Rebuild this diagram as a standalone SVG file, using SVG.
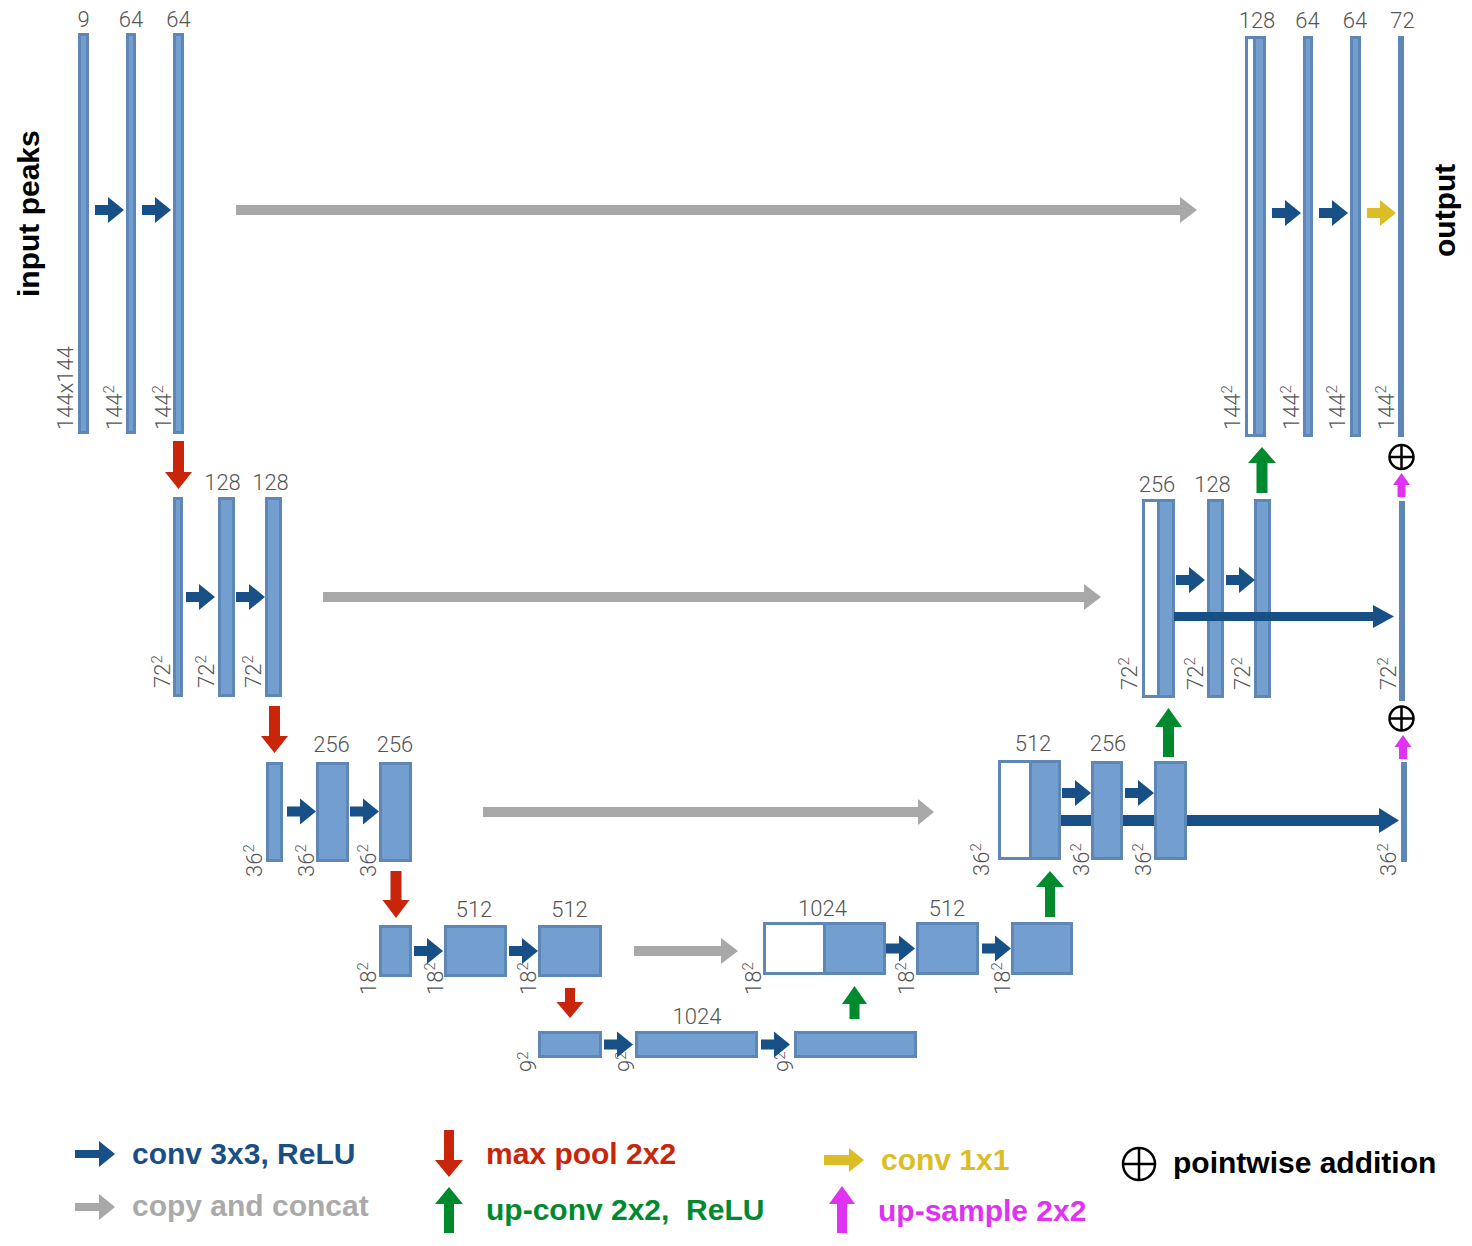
<svg xmlns="http://www.w3.org/2000/svg" width="1472" height="1246" viewBox="0 0 1472 1246">
<style>
.box{fill:#729fcf;stroke:#5f87b5;stroke-width:3}
.cat{fill:#ffffff;stroke:#5f87b5;stroke-width:3}
.thin{fill:#5f87b5}
.num{font-family:Roboto,"Liberation Sans",Arial,sans-serif;font-weight:300;font-size:22px;fill:#555555}
.sup{font-size:15px}
.top{text-anchor:middle}
.conv{fill:#174f87}
.copy{fill:#a8a8a8}
.pool{fill:#c8250a}
.up{fill:#008a2e}
.one{fill:#dbbd25}
.ups{fill:#e032f2}
.plus{fill:none;stroke:#000000;stroke-width:2.5}
.big{font-family:"Liberation Sans",Arial,sans-serif;font-weight:bold;font-size:30px}
</style>
<defs>
<path id="ca" d="M0,-5H13V-13L29,0L13,13V5H0Z"/>
</defs>
<rect width="1472" height="1246" fill="#ffffff"/>

<g id="connectors-back">
<path class="conv" d="M1061,815H1379V808L1399,820.5L1379,833V826H1061Z"/>
</g>

<g id="level1-down">
<g id="n1a"><rect class="box" x="79.5" y="34.5" width="8" height="398"/><text class="num top" x="83.5" y="27">9</text><text class="num" transform="translate(73,430) rotate(-90)">144x144</text></g>
<g id="n1b"><rect class="box" x="127.5" y="34.5" width="7" height="398"/><text class="num top" x="131" y="27">64</text><text class="num" transform="translate(122,430) rotate(-90)">144<tspan class="sup" dy="-8">2</tspan></text></g>
<g id="n1c"><rect class="box" x="174.5" y="34.5" width="8" height="398"/><text class="num top" x="178.5" y="27">64</text><text class="num" transform="translate(171,430) rotate(-90)">144<tspan class="sup" dy="-8">2</tspan></text></g>
</g>

<g id="level1-up">
<g id="u1a"><rect class="cat" x="1246.5" y="37.5" width="18" height="398"/><rect class="box" x="1254.5" y="37.5" width="10" height="398"/><text class="num top" x="1257" y="28">128</text><text class="num" transform="translate(1240,430) rotate(-90)">144<tspan class="sup" dy="-8">2</tspan></text></g>
<g id="u1b"><rect class="box" x="1304.5" y="37.5" width="7" height="398"/><text class="num top" x="1307.5" y="28">64</text><text class="num" transform="translate(1299,430) rotate(-90)">144<tspan class="sup" dy="-8">2</tspan></text></g>
<g id="u1c"><rect class="box" x="1351.5" y="37.5" width="8" height="398"/><text class="num top" x="1355" y="28">64</text><text class="num" transform="translate(1345,430) rotate(-90)">144<tspan class="sup" dy="-8">2</tspan></text></g>
<g id="u1out"><rect class="thin" x="1398" y="36" width="6" height="401"/><text class="num top" x="1402.5" y="28">72</text><text class="num" transform="translate(1394,430) rotate(-90)">144<tspan class="sup" dy="-8">2</tspan></text></g>
</g>

<g id="level2-down">
<g id="n2a"><rect class="box" x="174.5" y="498.5" width="7" height="197"/><text class="num" transform="translate(170,688) rotate(-90)">72<tspan class="sup" dy="-8">2</tspan></text></g>
<g id="n2b"><rect class="box" x="219.5" y="498.5" width="14" height="197"/><text class="num top" x="222.5" y="490">128</text><text class="num" transform="translate(214,688) rotate(-90)">72<tspan class="sup" dy="-8">2</tspan></text></g>
<g id="n2c"><rect class="box" x="266.5" y="498.5" width="14" height="197"/><text class="num top" x="270.5" y="490">128</text><text class="num" transform="translate(261,688) rotate(-90)">72<tspan class="sup" dy="-8">2</tspan></text></g>
</g>

<g id="level2-up">
<g id="u2a"><rect class="cat" x="1143.5" y="500.5" width="30" height="196"/><rect class="box" x="1158.5" y="500.5" width="15" height="196"/><text class="num top" x="1157" y="492">256</text><text class="num" transform="translate(1137,690) rotate(-90)">72<tspan class="sup" dy="-8">2</tspan></text></g>
<g id="u2b"><rect class="box" x="1208.5" y="500.5" width="14" height="196"/><text class="num top" x="1212.5" y="492">128</text><text class="num" transform="translate(1203,690) rotate(-90)">72<tspan class="sup" dy="-8">2</tspan></text></g>
<g id="u2c"><rect class="box" x="1255.5" y="500.5" width="14" height="196"/><text class="num" transform="translate(1250,690) rotate(-90)">72<tspan class="sup" dy="-8">2</tspan></text></g>
<g id="u2out"><rect class="thin" x="1399" y="501" width="6" height="200"/><text class="num" transform="translate(1396,690) rotate(-90)">72<tspan class="sup" dy="-8">2</tspan></text></g>
</g>

<g id="level3-down">
<g id="n3a"><rect class="box" x="267.5" y="763.5" width="14" height="97"/><text class="num" transform="translate(262,877) rotate(-90)">36<tspan class="sup" dy="-8">2</tspan></text></g>
<g id="n3b"><rect class="box" x="317.5" y="763.5" width="30" height="97"/><text class="num top" x="331.5" y="752">256</text><text class="num" transform="translate(314,877) rotate(-90)">36<tspan class="sup" dy="-8">2</tspan></text></g>
<g id="n3c"><rect class="box" x="380.5" y="763.5" width="30" height="97"/><text class="num top" x="395" y="752">256</text><text class="num" transform="translate(376,877) rotate(-90)">36<tspan class="sup" dy="-8">2</tspan></text></g>
</g>

<g id="level3-up">
<g id="u3a"><rect class="cat" x="999.5" y="761.5" width="60" height="97"/><rect class="box" x="1030.5" y="761.5" width="29" height="97"/><text class="num top" x="1033" y="751">512</text><text class="num" transform="translate(989,876) rotate(-90)">36<tspan class="sup" dy="-8">2</tspan></text></g>
<g id="u3b"><rect class="box" x="1092.5" y="762.5" width="29" height="96"/><text class="num top" x="1108" y="751">256</text><text class="num" transform="translate(1089,876) rotate(-90)">36<tspan class="sup" dy="-8">2</tspan></text></g>
<g id="u3c"><rect class="box" x="1155.5" y="762.5" width="30" height="96"/><text class="num" transform="translate(1151,876) rotate(-90)">36<tspan class="sup" dy="-8">2</tspan></text></g>
<g id="u3out"><rect class="thin" x="1401" y="762" width="6" height="100"/><text class="num" transform="translate(1396,876) rotate(-90)">36<tspan class="sup" dy="-8">2</tspan></text></g>
</g>

<g id="level4-down">
<g id="n4a"><rect class="box" x="380.5" y="926.5" width="30" height="49"/><text class="num" transform="translate(376,995) rotate(-90)">18<tspan class="sup" dy="-8">2</tspan></text></g>
<g id="n4b"><rect class="box" x="445.5" y="926.5" width="60" height="49"/><text class="num top" x="474" y="917">512</text><text class="num" transform="translate(443,995) rotate(-90)">18<tspan class="sup" dy="-8">2</tspan></text></g>
<g id="n4c"><rect class="box" x="539.5" y="926.5" width="61" height="49"/><text class="num top" x="569.5" y="917">512</text><text class="num" transform="translate(536,995) rotate(-90)">18<tspan class="sup" dy="-8">2</tspan></text></g>
</g>

<g id="level4-up">
<g id="u4a"><rect class="cat" x="764.5" y="923.5" width="120" height="50"/><rect class="box" x="824.5" y="923.5" width="60" height="50"/><text class="num top" x="822.5" y="916">1024</text><text class="num" transform="translate(761,995) rotate(-90)">18<tspan class="sup" dy="-8">2</tspan></text></g>
<g id="u4b"><rect class="box" x="917.5" y="923.5" width="60" height="50"/><text class="num top" x="947" y="916">512</text><text class="num" transform="translate(914,995) rotate(-90)">18<tspan class="sup" dy="-8">2</tspan></text></g>
<g id="u4c"><rect class="box" x="1012.5" y="923.5" width="59" height="50"/><text class="num" transform="translate(1010,995) rotate(-90)">18<tspan class="sup" dy="-8">2</tspan></text></g>
</g>

<g id="level5">
<g id="n5a"><rect class="box" x="539.5" y="1032.5" width="61" height="24"/><text class="num" transform="translate(536,1072) rotate(-90)">9<tspan class="sup" dy="-8">2</tspan></text></g>
<g id="n5b"><rect class="box" x="636.5" y="1032.5" width="120" height="24"/><text class="num top" x="697" y="1024">1024</text><text class="num" transform="translate(634,1072) rotate(-90)">9<tspan class="sup" dy="-8">2</tspan></text></g>
<g id="n5c"><rect class="box" x="795.5" y="1032.5" width="120" height="24"/><text class="num" transform="translate(793,1072) rotate(-90)">9<tspan class="sup" dy="-8">2</tspan></text></g>
</g>

<g id="add1"><circle class="plus" cx="1401.5" cy="457" r="12"/><path class="plus" d="M1389.5,457H1413.5M1401.5,445V469"/></g>
<g id="add2"><circle class="plus" cx="1401.5" cy="718.5" r="12"/><path class="plus" d="M1389.5,718.5H1413.5M1401.5,706.5V730.5"/></g>

<g id="labels">
<text class="big" transform="translate(39,297) rotate(-90)">input peaks</text>
<text class="big" transform="translate(1455,257) rotate(-90)">output</text>
</g>

<g id="connectors">
<use href="#ca" class="conv" x="95" y="210"/>
<use href="#ca" class="conv" x="142" y="210"/>
<use href="#ca" class="conv" x="1272" y="213"/>
<use href="#ca" class="conv" x="1319" y="213"/>
<use href="#ca" class="one" x="1367" y="213"/>
<use href="#ca" class="conv" x="186" y="597"/>
<use href="#ca" class="conv" x="236" y="597"/>
<use href="#ca" class="conv" x="1176" y="580"/>
<use href="#ca" class="conv" x="1226" y="580"/>
<use href="#ca" class="conv" x="287" y="811.5"/>
<use href="#ca" class="conv" x="350" y="811.5"/>
<use href="#ca" class="conv" x="1062" y="793"/>
<use href="#ca" class="conv" x="1125" y="793"/>
<use href="#ca" class="conv" x="414" y="951"/>
<use href="#ca" class="conv" x="509" y="951"/>
<use href="#ca" class="conv" x="886" y="948.5"/>
<use href="#ca" class="conv" x="982" y="948.5"/>
<use href="#ca" class="conv" x="604" y="1044.5"/>
<use href="#ca" class="conv" x="761" y="1044.5"/>
<path class="copy" d="M236,205H1180V197L1197,210L1180,223V215H236Z"/>
<path class="copy" d="M323,592H1084V584L1101,597L1084,610V602H323Z"/>
<path class="copy" d="M483,807H918V799L934,812L918,825V817H483Z"/>
<path class="copy" d="M634,946H721V938L738,951L721,964V956H634Z"/>
<path class="conv" d="M1174,612H1373V605L1394,616.5L1373,628V621H1174Z"/>
<path class="pool" d="M173,441H184V472H192L178.5,489L165,472H173Z"/>
<path class="pool" d="M269,706H280V736H288L274.5,753L261,736H269Z"/>
<path class="pool" d="M390.5,871H401.5V900H409.5L396,918L382.5,900H390.5Z"/>
<path class="pool" d="M565,988H575V1002H583.5L570,1018L556.5,1002H565Z"/>
<path class="up" d="M849.5,1019V1004H842L854.5,986L867,1004H859.5V1019Z"/>
<path class="up" d="M1045,917V887H1036L1050,871L1064,887H1055V917Z"/>
<path class="up" d="M1163,757V727H1155L1168.5,708L1182,727H1174V757Z"/>
<path class="up" d="M1256.5,493V463H1248L1262,447L1276,463H1267.5V493Z"/>
<path class="ups" d="M1397.5,497V485H1393L1401.5,473L1410,485H1405.5V497Z"/>
<path class="ups" d="M1399,759V747H1394.5L1403,735L1411.5,747H1407V759Z"/>
</g>

<g id="legend">
<path class="conv" d="M75,1150H99V1141L115,1154L99,1167V1158H75Z"/>
<text class="big" x="132" y="1164" fill="#1a4f86">conv 3x3, ReLU</text>
<path class="copy" d="M75,1203H99V1194L115,1207L99,1220V1211H75Z"/>
<text class="big" x="132" y="1216" fill="#aaaaaa">copy and concat</text>
<path class="pool" d="M444,1130H454V1160H463L449,1177L435,1160H444Z"/>
<text class="big" x="486" y="1164" fill="#c8250a">max pool 2x2</text>
<path class="up" d="M444,1233V1204H435L449,1187L463,1204H454V1233Z"/>
<text class="big" x="486" y="1220" fill="#00892e" xml:space="preserve">up-conv 2x2,  ReLU</text>
<path class="one" d="M824,1155H849V1148L864,1160L849,1172V1165H824Z"/>
<text class="big" x="881" y="1170" fill="#dcbd25">conv 1x1</text>
<path class="ups" d="M837,1233V1204H829L842,1186L855,1204H847V1233Z"/>
<text class="big" x="878" y="1221" fill="#e032f2">up-sample 2x2</text>
<circle class="plus" cx="1139" cy="1164" r="16"/>
<path class="plus" d="M1123,1164H1155M1139,1148V1180"/>
<text class="big" x="1173" y="1173" fill="#000000">pointwise addition</text>
</g>
</svg>
